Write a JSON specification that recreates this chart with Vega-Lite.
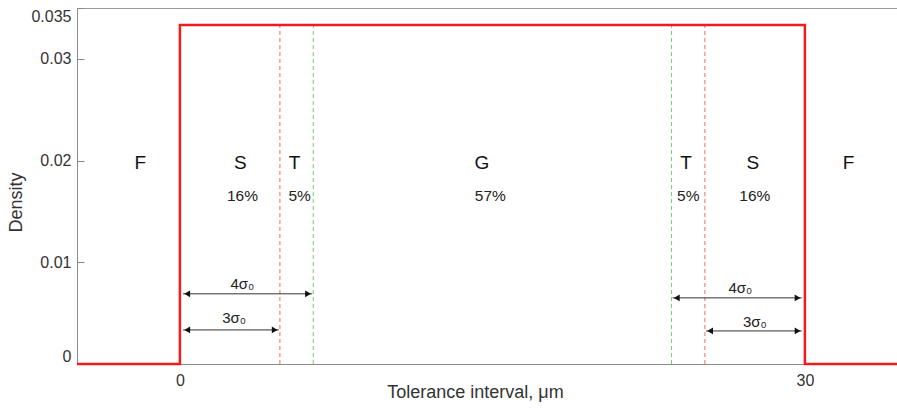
{
  "$schema": "https://vega.github.io/schema/vega-lite/v6.json",
  "width": 821,
  "height": 356,
  "autosize": {"type": "none"},
  "padding": {"left": 77, "top": 8, "right": 0, "bottom": 44},
  "background": "white",
  "config": {
    "view": {"stroke": "#9a9a9a", "strokeWidth": 1},
    "font": "Liberation Sans",
    "axis": {
      "grid": false,
      "domainColor": "#8a8a8a",
      "tickColor": "#8a8a8a",
      "labelColor": "#333333",
      "titleColor": "#333333",
      "labelFont": "Liberation Sans",
      "titleFont": "Liberation Sans",
      "labelFontSize": 16,
      "titleFontSize": 18,
      "titleFontWeight": "normal"
    }
  },
  "datasets": {
    "dist": [
      {"x": -4.94, "y": 0, "ord": 1},
      {"x": 0, "y": 0, "ord": 2},
      {"x": 0, "y": 0.03333, "ord": 3},
      {"x": 30, "y": 0.03333, "ord": 4},
      {"x": 30, "y": 0, "ord": 5},
      {"x": 34.47, "y": 0, "ord": 6}
    ],
    "vlines": [
      {"x": 4.8, "y": 0, "y2": 0.03333, "kind": "3s"},
      {"x": 25.2, "y": 0, "y2": 0.03333, "kind": "3s"},
      {"x": 6.4, "y": 0, "y2": 0.03333, "kind": "4s"},
      {"x": 23.6, "y": 0, "y2": 0.03333, "kind": "4s"}
    ],
    "letters": [
      {"x": -1.9, "y": 0.0198, "t": "F"},
      {"x": 2.9, "y": 0.0198, "t": "S"},
      {"x": 5.5, "y": 0.0198, "t": "T"},
      {"x": 14.5, "y": 0.0198, "t": "G"},
      {"x": 24.3, "y": 0.0198, "t": "T"},
      {"x": 27.5, "y": 0.0198, "t": "S"},
      {"x": 32.1, "y": 0.0198, "t": "F"}
    ],
    "pcts": [
      {"x": 3.0, "y": 0.01655, "t": "16%"},
      {"x": 5.75, "y": 0.01655, "t": "5%"},
      {"x": 14.9, "y": 0.01655, "t": "57%"},
      {"x": 24.4, "y": 0.01655, "t": "5%"},
      {"x": 27.6, "y": 0.01655, "t": "16%"}
    ],
    "arrows": [
      {"x": 0.15, "x2": 6.35, "y": 0.0069},
      {"x": 0.15, "x2": 4.75, "y": 0.00335},
      {"x": 23.65, "x2": 29.85, "y": 0.0065},
      {"x": 25.25, "x2": 29.85, "y": 0.00325}
    ],
    "heads": [
      {"x": 0.35, "y": 0.0069, "dir": "L"},
      {"x": 6.15, "y": 0.0069, "dir": "R"},
      {"x": 0.35, "y": 0.00335, "dir": "L"},
      {"x": 4.55, "y": 0.00335, "dir": "R"},
      {"x": 23.85, "y": 0.0065, "dir": "L"},
      {"x": 29.65, "y": 0.0065, "dir": "R"},
      {"x": 25.45, "y": 0.00325, "dir": "L"},
      {"x": 29.65, "y": 0.00325, "dir": "R"}
    ],
    "alabels": [
      {"x": 3.0, "y": 0.0079, "t": "4σ₀"},
      {"x": 2.6, "y": 0.0045, "t": "3σ₀"},
      {"x": 26.9, "y": 0.0075, "t": "4σ₀"},
      {"x": 27.6, "y": 0.0041, "t": "3σ₀"}
    ]
  },
  "encoding": {
    "x": {
      "field": "x",
      "type": "quantitative",
      "scale": {"domain": [-4.94, 34.47], "nice": false, "zero": false},
      "axis": {
        "values": [0, 30],
        "title": "Tolerance interval, μm",
        "tickSize": -5,
        "labelPadding": 13,
        "labelFlush": false,
        "titleX": 398,
        "titleY": 28,
        "titleBaseline": "middle"
      }
    },
    "y": {
      "field": "y",
      "type": "quantitative",
      "scale": {"domain": [0, 0.035], "nice": false},
      "axis": {
        "values": [0, 0.01, 0.02, 0.03, 0.035],
        "labelExpr": "'' + datum.value",
        "title": "Density",
        "tickSize": -7,
        "labelPadding": 13,
        "labelFlush": true,
        "titleX": -52,
        "titleY": 194,
        "titleAnchor": null,
        "titleAlign": "center",
        "titleBaseline": "bottom",
        "titleAngle": -90
      }
    }
  },
  "layer": [
    {
      "data": {"name": "vlines"},
      "mark": {"type": "rule", "strokeWidth": 1, "strokeDash": [4, 3]},
      "encoding": {
        "y2": {"field": "y2"},
        "color": {"field": "kind", "type": "nominal", "scale": {"domain": ["3s", "4s"], "range": ["#ee6a6a", "#70d070"]}, "legend": null}
      }
    },
    {
      "data": {"name": "dist"},
      "mark": {"type": "line", "color": "#ee1c1c", "strokeWidth": 2.5, "interpolate": "linear"},
      "encoding": {"order": {"field": "ord", "type": "quantitative"}}
    },
    {
      "data": {"name": "arrows"},
      "mark": {"type": "rule", "color": "#333333", "strokeWidth": 1},
      "encoding": {"x2": {"field": "x2"}}
    },
    {
      "data": {"name": "heads"},
      "mark": {"type": "point", "filled": true, "size": 45, "opacity": 1},
      "encoding": {
        "shape": {"field": "dir", "type": "nominal", "scale": {"domain": ["L", "R"], "range": ["triangle-left", "triangle-right"]}, "legend": null},
        "color": {"value": "#111111"}
      }
    },
    {
      "data": {"name": "letters"},
      "mark": {"type": "text", "fontSize": 19, "color": "#111111", "baseline": "middle", "font": "Liberation Sans"},
      "encoding": {"text": {"field": "t"}}
    },
    {
      "data": {"name": "pcts"},
      "mark": {"type": "text", "fontSize": 15.5, "color": "#222222", "baseline": "middle", "font": "Liberation Sans"},
      "encoding": {"text": {"field": "t"}}
    },
    {
      "data": {"name": "alabels"},
      "mark": {"type": "text", "fontSize": 15, "color": "#222222", "baseline": "middle", "font": "Liberation Sans"},
      "encoding": {"text": {"field": "t"}}
    }
  ]
}
